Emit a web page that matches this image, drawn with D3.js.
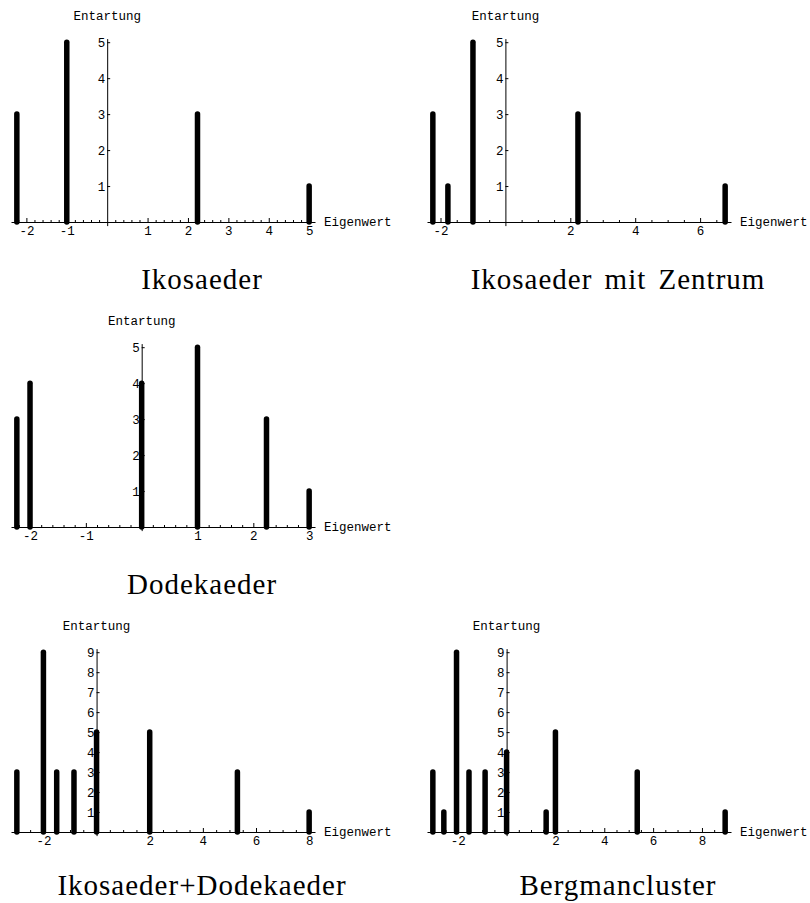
<!DOCTYPE html>
<html>
<head>
<meta charset="utf-8">
<script src="https://cdn.jsdelivr.net/npm/d3@7"></script>
<style>
  body { margin: 0; background: #fff; }
  svg { display: block; }
  .tick text { font-family: "Courier New", Courier, "Nimbus Mono PS", "FreeMono", "Liberation Mono", monospace; font-size: 12.5px; }
  .lab { font-family: "Courier New", Courier, "Nimbus Mono PS", "FreeMono", "Liberation Mono", monospace; font-size: 12.5px; fill: #000; }
  .title { font-family: "Liberation Serif", "Times New Roman", serif; font-size: 29px; letter-spacing: 1px; word-spacing: 4px; fill: #000; }
</style>
</head>
<body>
<div id="chart"></div>
<script>
// eigenvalues (x) and their degeneracy (y) for each cluster
var ikoValues = [-2.236, -1, 2.236, 5];
var ikoCounts = [3, 5, 3, 1];

var zentrumValues = [-2.236, -1.772, -1, 2.236, 6.772];
var zentrumCounts = [3, 1, 5, 3, 1];

var dodekValues = [-2.236, -2, 0, 1, 2.236, 3];
var dodekCounts = [3, 4, 4, 5, 3, 1];

var ikoDodekValues = [-3, -2, -1.5, -0.85, 0, 2, 5.3, 8];
var ikoDodekCounts = [3, 9, 3, 3, 5, 5, 3, 1];

var bergmanValues = [-3.02, -2.57, -2.05, -1.54, -0.88, 0, 1.62, 2, 5.35, 8.95];
var bergmanCounts = [3, 1, 9, 3, 3, 4, 1, 5, 3, 1];

// tick labels
var ikoTicks = [-2, -1, 1, 2, 3, 4, 5];
var zentrumTicks = [-2, 2, 4, 6];
var dodekTicks = [-2, -1, 1, 2, 3];
var ikoDodekTicks = [-2, 2, 4, 6, 8];
var bergmanTicks = [-2, 2, 4, 6, 8];
var yTicks5 = [1, 2, 3, 4, 5];
var yTicks9 = [1, 2, 3, 4, 5, 6, 7, 8, 9];

var titles = ["Ikosaeder", "Ikosaeder mit Zentrum", "Dodekaeder", "Ikosaeder+Dodekaeder", "Bergmancluster"];

var panels = [
  { title: titles[0], values: ikoValues, counts: ikoCounts, xTicks: ikoTicks, yTicks: yTicks5, major: 1, minor: 0.2, col: 0, row: 0 },
  { title: titles[1], values: zentrumValues, counts: zentrumCounts, xTicks: zentrumTicks, yTicks: yTicks5, major: 2, minor: 0.5, col: 1, row: 0 },
  { title: titles[2], values: dodekValues, counts: dodekCounts, xTicks: dodekTicks, yTicks: yTicks5, major: 1, minor: 0.2, col: 0, row: 1 },
  { title: titles[3], values: ikoDodekValues, counts: ikoDodekCounts, xTicks: ikoDodekTicks, yTicks: yTicks9, major: 2, minor: 0.5, col: 0, row: 2 },
  { title: titles[4], values: bergmanValues, counts: bergmanCounts, xTicks: bergmanTicks, yTicks: yTicks9, major: 2, minor: 0.5, col: 1, row: 2 }
];

var width = 810, height = 903;
var colX = [11, 427], rowY = [0, 305, 610];
var plotW = 304, plotTop = 38.6, plotH = 187;

var svg = d3.select("#chart").append("svg")
    .attr("width", width)
    .attr("height", height);

panels.forEach(function (p) {
    var x0 = colX[p.col], y0 = rowY[p.row];
    var g = svg.append("g");

    var ext = d3.extent(p.values);
    var pad = 0.02 * (ext[1] - ext[0]);
    var xScale = d3.scaleLinear()
        .domain([ext[0] - pad, ext[1] + pad])
        .range([x0, x0 + plotW]);

    var yMax = d3.max(p.counts);
    var yScale = d3.scaleLinear()
        .domain([-0.02 * yMax, 1.02 * yMax])
        .range([y0 + plotTop + plotH, y0 + plotTop]);

    var dom = xScale.domain();
    var minorTicks = d3.range(Math.ceil(dom[0] / p.minor), Math.floor(dom[1] / p.minor) + 1)
        .map(function (k) { return k * p.minor; })
        .filter(function (v) {
            var r = v / p.major;
            return Math.abs(r - Math.round(r)) > 1e-6;
        });

    // x axis, minor ticks
    g.append("g")
        .attr("transform", "translate(0," + yScale(0) + ")")
        .call(d3.axisBottom(xScale).tickValues(minorTicks).tickSize(-2).tickSizeOuter(0).tickFormat(""))
        .call(function (a) { a.select(".domain").remove(); });

    // x axis, major ticks + labels
    g.append("g")
        .attr("class", "axis axis--x")
        .attr("transform", "translate(0," + yScale(0) + ")")
        .call(d3.axisBottom(xScale).tickValues(p.xTicks).tickSize(-4).tickSizeOuter(0).tickPadding(4)
            .tickFormat(function (d) { return d < 0 ? "-" + Math.abs(d) : String(d); }))
        .attr("font-family", null)
        .attr("font-size", null);

    // y axis at x = 0
    g.append("g")
        .attr("class", "axis axis--y")
        .attr("transform", "translate(" + xScale(0) + ",0)")
        .call(d3.axisLeft(yScale).tickValues(p.yTicks).tickSize(-3).tickSizeOuter(0).tickPadding(2)
            .tickFormat(d3.format("d")))
        .attr("font-family", null)
        .attr("font-size", null);

    // degeneracy bars
    p.values.forEach(function (v, i) {
        g.append("line")
            .attr("x1", xScale(v))
            .attr("x2", xScale(v))
            .attr("y1", yScale(0))
            .attr("y2", yScale(p.counts[i]))
            .attr("stroke", "#000")
            .attr("stroke-width", 5.5)
            .attr("stroke-linecap", "round");
    });

    g.append("text")
        .attr("class", "lab")
        .attr("x", xScale(0))
        .attr("y", y0 + 20)
        .attr("text-anchor", "middle")
        .text("Entartung");

    g.append("text")
        .attr("class", "lab")
        .attr("x", x0 + plotW + 9)
        .attr("y", yScale(0) + 4)
        .text("Eigenwert");

    g.append("text")
        .attr("class", "title")
        .attr("x", x0 + 191)
        .attr("y", Math.min(y0 + 289, height - 8))
        .attr("text-anchor", "middle")
        .text(p.title);
});
</script>
</body>
</html>
